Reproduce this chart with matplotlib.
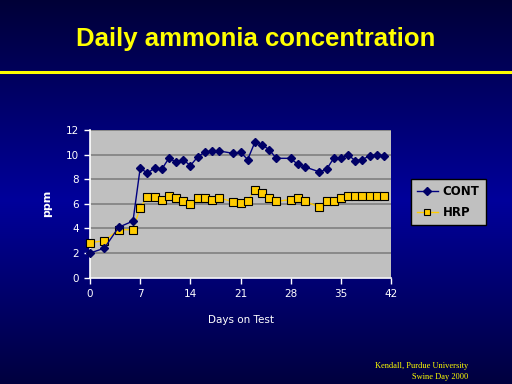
import numpy as np
import matplotlib
matplotlib.use("Agg")
import matplotlib.pyplot as plt
from matplotlib.lines import Line2D

days = [0, 2, 4, 6, 7, 8, 9, 10, 11, 12, 13, 14, 15, 16, 17, 18, 20, 21, 22, 23,
        24, 25, 26, 28, 29, 30, 32, 33, 34, 35, 36, 37, 38, 39, 40, 41]
cont = [2.0, 2.4, 4.1, 4.6, 8.9, 8.5, 8.9, 8.8, 9.7, 9.4, 9.6, 9.1, 9.8, 10.2, 10.3, 10.3,
        10.1, 10.2, 9.6, 11.0, 10.8, 10.4, 9.7, 9.7, 9.2, 9.0, 8.6, 8.8, 9.7, 9.7,
        10.0, 9.5, 9.6, 9.9, 10.0, 9.9]
hrp = [2.85, 3.0, 3.9, 3.9, 5.7, 6.55, 6.55, 6.3, 6.65, 6.5, 6.25, 6.0, 6.5, 6.5, 6.3, 6.5,
       6.15, 6.1, 6.25, 7.1, 6.9, 6.5, 6.2, 6.35, 6.5, 6.2, 5.75, 6.25, 6.25, 6.5,
       6.65, 6.6, 6.65, 6.6, 6.65, 6.65]
xticks = [0, 7, 14, 21, 28, 35, 42]
yticks = [0, 2, 4, 6, 8, 10, 12]

fig = plt.figure(figsize=(5.12, 3.84), dpi=100)

# gradient background
bg = fig.add_axes([0, 0, 1, 1], zorder=-10)
t = np.linspace(0, 1, 384)
prof = 1 - np.abs(t - 0.52) / 0.52
prof = np.clip(prof, 0, 1)
top = np.array([0, 0, 55]) / 255.0
mid = np.array([0, 0, 155]) / 255.0
grad = top[None, :] + (mid - top)[None, :] * prof[:, None]
img = np.repeat(grad[:, None, :], 2, axis=1)
bg.imshow(img, aspect='auto', extent=[0, 1, 0, 1], origin='upper')
bg.set_xlim(0, 1)
bg.set_ylim(0, 1)
bg.axis('off')

# title and rule
fig.text(0.5, 1 - 39 / 384, "Daily ammonia concentration", color='#ffff00',
         fontsize=18.5, fontweight='bold', family='Liberation Sans',
         ha='center', va='center')
fig.add_artist(Line2D([0, 1], [1 - 72 / 384, 1 - 72 / 384], color='#ffff00',
                      linewidth=2.2, transform=fig.transFigure))

ax = fig.add_axes([90 / 512, 1 - 277.7 / 384, 301 / 512, 147.7 / 384])
ax.set_facecolor('#c0c0c0')
ax.set_xlim(0, 42)
ax.set_ylim(0, 12)
ax.set_xticks(xticks)
ax.set_yticks(yticks)
ax.grid(axis='y', color='#808080', linewidth=1.2)
ax.set_axisbelow(True)
for s in ['top', 'right']:
    ax.spines[s].set_visible(False)
for s in ['left', 'bottom']:
    ax.spines[s].set_color('white')
    ax.spines[s].set_linewidth(1.2)
ax.tick_params(colors='white', labelsize=7.5, length=4, width=1, pad=4)

ax.plot(days, hrp, color='#ffcc00', linewidth=1, marker='s', markersize=5.5,
        markerfacecolor='#ffcc00', markeredgecolor='black', markeredgewidth=0.8,
        clip_on=False, zorder=3, label='HRP')
ax.plot(days, cont, color='#000080', linewidth=1, marker='D', markersize=4.5,
        markerfacecolor='#000066', markeredgecolor='#000066',
        clip_on=False, zorder=4, label='CONT')

ax.set_ylabel('ppm', color='white', fontsize=8, fontweight='bold', labelpad=10)
ax.set_xlabel('Days on Test', color='white', fontsize=7.5, labelpad=12)

h, l = ax.get_legend_handles_labels()
leg = ax.legend(h[::-1], l[::-1], loc='center left',
                bbox_to_anchor=(405 / 512, 1 - 202 / 384),
                bbox_transform=fig.transFigure, frameon=True, fancybox=False,
                facecolor='#c0c0c0', edgecolor='black', framealpha=1,
                prop={'weight': 'bold', 'size': 8.5}, handlelength=1.8,
                borderpad=0.5, labelspacing=0.7, handletextpad=0.4,
                markerscale=0.85)
for txt in leg.get_texts():
    txt.set_color('black')

fig.text(468 / 512, 1 - 366 / 384, "Kendall, Purdue University", color='#ffff00',
         fontsize=6, family='Liberation Serif', ha='right', va='center')
fig.text(468 / 512, 1 - 377 / 384, "Swine Day 2000", color='#ffff00',
         fontsize=6, family='Liberation Serif', ha='right', va='center')

fig.savefig('out.png', dpi=100)
